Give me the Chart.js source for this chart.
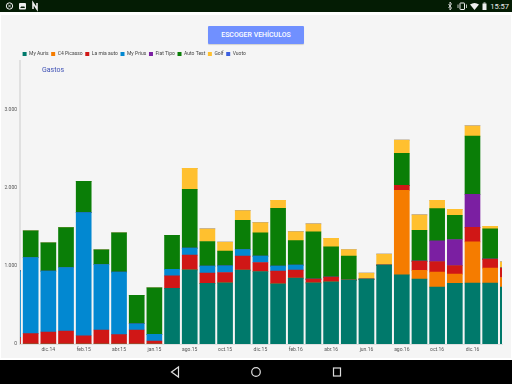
<!DOCTYPE html>
<html>
<head>
<meta charset="utf-8">
<title>Gastos</title>
<script src="https://cdn.jsdelivr.net/npm/chart.js@4/dist/chart.umd.min.js"></script>
<style>
  html, body { margin: 0; padding: 0; }
  body { width: 512px; height: 384px; position: relative; overflow: hidden; background: #fff; font-family: Roboto, sans-serif; }
  #panel { position: absolute; left: 1px; top: 15px; width: 510px; height: 343px; background: #f5f5f5; }
  #status { position: absolute; left: 0; top: 0; width: 512px; height: 12px; background: #041c04; color: #eee; }
  #clock { position: absolute; right: 3px; top: 1px; font-size: 7.5px; line-height: 11px; }
  #nav { position: absolute; left: 0; top: 360px; width: 512px; height: 24px; background: #000; }
  #btn { position: absolute; left: 208px; top: 26px; width: 96px; height: 18px; background: #7090ff; color: #fff; border-radius: 1px;
         font-size: 7px; font-weight: 500; line-height: 18px; text-align: center; box-shadow: 0 1px 1px rgba(0,0,0,.15); }
  #title { position: absolute; left: 42px; top: 66px; font-size: 7px; line-height: 9px; color: #3f51b5; }
  #wrap { position: absolute; left: 0; top: 49px; width: 512px; height: 307px; }
  svg { position: absolute; left: 0; top: 0; }
</style>
</head>
<body>
<div id="panel"></div>
<div id="status">
  <svg width="512" height="12">
    <circle cx="9.5" cy="6" r="3.2" fill="none" stroke="#eee" stroke-width="1"/>
    <path d="M8 4.5l3 3M11 4.5l-3 3" stroke="#eee" stroke-width=".8"/>
    <rect x="19" y="3" width="7" height="6.5" rx="1" fill="#eee"/>
    <path d="M20 8l2-2 1 1 1-1 1 2z" fill="#041c04"/>
    <path d="M33 9V3l4 6V3" fill="none" stroke="#eee" stroke-width="1.6"/>
    <path d="M448.5 4l3 4-1.5 2V2l1.500 2-3 4" fill="none" stroke="#eee" stroke-width=".8"/>
    <rect x="460" y="3" width="4.500" height="6.500" rx=".5" fill="none" stroke="#eee" stroke-width="1"/>
    <path d="M458 4.500v3.500M466.500 4.500v3.500" stroke="#eee" stroke-width=".8"/>
    <path d="M470 4.500q4.500-3 9 0l-4.500 5.500z" fill="#eee"/>
    <rect x="482.500" y="3.500" width="4" height="6.500" fill="#eee"/>
    <rect x="483.500" y="2.500" width="2" height="1" fill="#eee"/>
  </svg>
  <div id="clock">15:57</div>
</div>
<div id="btn">ESCOGER VEHÍCULOS</div>
<div id="wrap"><canvas id="chart"></canvas></div>
<div id="title">Gastos</div>
<div id="nav">
  <svg width="512" height="24">
    <path d="M171.500 12l7-5v10z" fill="none" stroke="#ddd" stroke-width="1.200"/>
    <circle cx="256" cy="12" r="4.300" fill="none" stroke="#ddd" stroke-width="1.200"/>
    <rect x="333.500" y="8" width="7" height="8" fill="none" stroke="#ddd" stroke-width="1.200"/>
  </svg>
</div>
<script>
const months = ['oct.14','nov.14','dic.14','ene.15','feb.15','mar.15','abr.15','may.15','jan.15','jul.15',
  'ago.15','sep.15','oct.15','nov.15','dic.15','ene.16','feb.16','mar.16','abr.16','may.16',
  'jun.16','jul.16','ago.16','sep.16','oct.16','nov.16','dic.16','ene.17','feb.17'];

// amounts per vehicle, one per month
const myAuris  = [0,0,0,0,0,0,0,0,0,710,948,774,782,944,927,770,842,782,795,816,829,1008,884,829,727,774,778,778,727];
const c4Picasso= [0,0,0,0,0,0,0,0,0,0,0,0,0,0,0,0,0,0,0,0,0,0,1080,111,191,119,527,191,123];
const miaAuto  = [81,132,153,166,106,179,119,179,38,160,187,132,132,179,115,161,102,47,60,0,0,0,64,119,136,110,187,115,119];
const myPrius  = [854,973,778,812,1574,837,799,80,85,85,90,89,85,85,81,64,64,0,0,0,0,0,0,0,0,0,0,0,0];
const fiatTipo = [0,0,0,0,0,0,0,0,0,0,0,0,0,0,0,0,0,0,0,0,0,0,0,0,264,332,421,0,0];
const autoTest = [0,340,362,510,399,187,502,362,595,433,752,315,187,374,297,740,314,604,387,307,0,0,408,395,413,311,744,387,0];
const golf     = [0,0,0,0,0,0,0,0,0,0,268,161,115,123,132,102,115,102,110,85,77,140,170,196,106,76,132,34,81];
const vuoto    = [0,0,0,0,0,0,0,0,0,0,0,0,0,0,0,0,0,0,0,0,0,0,0,0,0,0,0,0,0];

const yTicks = [0, 1000, 2000, 3000];

const series = [
  ['My Auris', myAuris, '#00796b'],
  ['C4 Picasso', c4Picasso, '#f57c00'],
  ['La mia auto', miaAuto, '#d01716'],
  ['My Prius', myPrius, '#0288d1'],
  ['Fiat Tipo', fiatTipo, '#7b1fa2'],
  ['Auto Test', autoTest, '#0a7e07'],
  ['Golf', golf, '#ffc02f'],
  ['Vuoto', vuoto, '#3b5fe0']
];

// the legend sits closer to the plot than Chart.js leaves by default
const tightLegend = {
  id: 'tightLegend',
  beforeInit(chart) {
    const fit = chart.legend.fit;
    chart.legend.fit = function () {
      fit.call(this);
      this.height -= 6;
    };
  }
};

const ctx = document.getElementById('chart').getContext('2d');
new Chart(ctx, {
  type: 'bar',
  plugins: [tightLegend],
  data: {
    datasets: series.map(s => ({
      label: s[0],
      data: s[1].map((v, i) => ({ x: i, y: v })),
      backgroundColor: s[2],
      barThickness: 15
    }))
  },
  options: {
    responsive: true,
    maintainAspectRatio: false,
    animation: false,
    layout: { padding: { left: 0, right: 10, top: 0, bottom: 0 } },
    plugins: {
      tooltip: { enabled: false },
      legend: {
        position: 'top',
        align: 'start',
        fullSize: false,
        labels: { boxWidth: 4, boxHeight: 4, padding: 2.6, color: '#444', font: { family: 'Roboto', size: 5 } }
      }
    },
    scales: {
      x: {
        type: 'linear',
        stacked: true,
        offset: false,
        min: 0.396,
        max: 27.67,
        grid: { display: false, drawTicks: false },
        border: { display: true, color: '#e0e0e0', width: 1 },
        ticks: {
          stepSize: 2,
          includeBounds: false,
          autoSkip: false,
          maxRotation: 0,
          padding: 3,
          color: '#555',
          font: { family: 'Roboto', size: 5 },
          callback: v => months[v]
        }
      },
      y: {
        stacked: true,
        min: 0,
        max: 3622,
        afterBuildTicks: axis => { axis.ticks = yTicks.map(v => ({ value: v })); },
        grid: { display: false, drawTicks: false },
        border: { display: true, color: '#e0e0e0', width: 2 },
        ticks: {
          padding: 3,
          color: '#555',
          font: { family: 'Roboto', size: 5 },
          callback: v => v === 0 ? '0' : v.toLocaleString('es-ES', { useGrouping: 'always' })
        },
        afterFit: axis => { axis.width = 20; }
      }
    }
  }
});
</script>
</body>
</html>
